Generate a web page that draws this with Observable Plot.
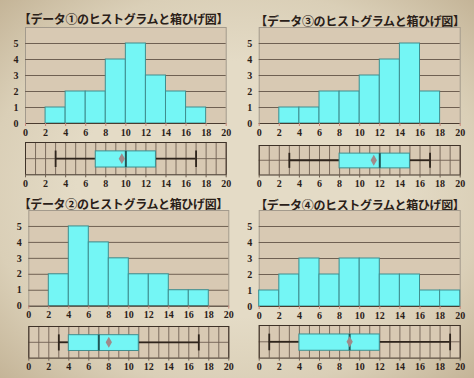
<!DOCTYPE html>
<html><head><meta charset="utf-8">
<script src="https://cdn.jsdelivr.net/npm/d3@7"></script>
<script src="https://cdn.jsdelivr.net/npm/@observablehq/plot@0.6"></script>
<style>
html,body{margin:0;padding:0;}
body{width:474px;height:378px;overflow:hidden;position:relative;
 background: radial-gradient(ellipse 75% 75% at 50% 50%, #e4dbc6 45%, #dacfb7 70%, #bfae90 100%);}
.title{position:absolute;font-family:"Noto Sans CJK JP",sans-serif;font-weight:700;font-size:12px;color:#2a2018;white-space:nowrap;transform:translate(-50%,-50%);letter-spacing:-0.35px;}
.chart{position:absolute;}
</style></head><body>
<script>
// Data
const binStarts = [0, 2, 4, 6, 8, 10, 12, 14, 16, 18];
const counts1 = [0, 1, 2, 2, 4, 5, 3, 2, 1, 0];
const counts2 = [0, 2, 5, 4, 3, 2, 2, 1, 1, 0];
const counts3 = [0, 1, 1, 2, 2, 3, 4, 5, 2, 0];
const counts4 = [1, 2, 3, 2, 3, 3, 2, 2, 1, 1];
// [min, Q1, median, Q3, max], mean
const box1 = [3, 7, 10, 13, 17]; const mean1 = 9.6;
const box2 = [3, 4, 7, 11, 17]; const mean2 = 8;
const box3 = [3, 8, 12, 15, 17]; const mean3 = 11.4;
const box4 = [1, 4, 9, 12, 19]; const mean4 = 9;
const titles = ["【データ①のヒストグラムと箱ひげ図】","【データ②のヒストグラムと箱ひげ図】","【データ③のヒストグラムと箱ひげ図】","【データ④のヒストグラムと箱ひげ図】"];
const xTicks = [0, 2, 4, 6, 8, 10, 12, 14, 16, 18, 20];
const yTicks = [0, 1, 2, 3, 4, 5];

const panels = [
  {counts: counts1, box: box1, mean: mean1, title: titles[0], ox: 0, oy: 0, xl: 25, xr: 225.7, hy0: 122.7, hy6: 26.7, bt: 141.7, bb: 174, ty: 18, tx: 123.5},
  {counts: counts3, box: box3, mean: mean3, title: titles[2], ox: 237, oy: 0, xl: 21.7, xr: 222.7, hy0: 122.7, hy6: 26.7, bt: 144.5, bb: 174, ty: 19.5, tx: 123},
  {counts: counts2, box: box2, mean: mean2, title: titles[1], ox: 0, oy: 189, xl: 28.3, xr: 228.3, hy0: 116.7, hy6: 21, bt: 136.7, bb: 168.3, ty: 14, tx: 123.3},
  {counts: counts4, box: box4, mean: mean4, title: titles[3], ox: 237, oy: 189, xl: 21.7, xr: 222.7, hy0: 117.3, hy6: 21.3, bt: 135.7, bb: 168.3, ty: 15, tx: 122.8}
];

const plotBg = "#d8c9b3";
const gridC = "#6f6052";
const frameC = "#a39a8c";
const barFill = "#74f6f5";
const barStroke = "#3f8e8f";
const labelFont = {fontFamily: "'Liberation Serif', serif", fontSize: "10px", fontWeight: "bold", color: "#2a2018"};

function place(el, left, top) {
  el.classList.add("chart");
  el.style.left = left + "px";
  el.style.top = top + "px";
  document.body.appendChild(el);
}

for (const p of panels) {
  const t = document.createElement("div");
  t.className = "title";
  t.textContent = p.title;
  t.style.left = (p.ox + p.tx) + "px";
  t.style.top = (p.oy + p.ty) + "px";
  document.body.appendChild(t);

  const bins = binStarts.map((b, i) => ({x1: b, x2: b + 2, y: p.counts[i]})).filter(d => d.y > 0);
  const mT = 8, mB = 20;
  const hH = (p.hy0 - p.hy6) + mT + mB;
  const hist = Plot.plot({
    width: 237, height: hH,
    marginLeft: p.xl, marginRight: 237 - p.xr, marginTop: mT, marginBottom: mB,
    style: {...labelFont, background: "transparent", overflow: "visible"},
    x: {domain: [0, 20], label: null},
    y: {domain: [0, 6], label: null},
    marks: [
      Plot.frame({fill: plotBg, stroke: frameC}),
      Plot.ruleY([1, 2, 3, 4, 5], {stroke: gridC, strokeWidth: 1}),
      Plot.rectY(bins, {x1: "x1", x2: "x2", y: "y", fill: barFill, stroke: barStroke, strokeWidth: 1, inset: 0}),
      Plot.ruleY([0], {stroke: "#4a3c30", strokeWidth: 1}),
      Plot.axisX({ticks: xTicks, tickFormat: "d", tickSize: 3, tickPadding: 2, stroke: "#c7877a", fill: "#2a2018"}),
      Plot.axisY({ticks: yTicks, tickFormat: "d", tickSize: 0, tickPadding: 7, fill: "#2a2018"})
    ]
  });
  place(hist, p.ox, p.oy + p.hy6 - mT);

  const bT = 5, bB = 17;
  const bH = (p.bb - p.bt) + bT + bB;
  const [mn, q1, md, q3, mx] = p.box;
  const box = Plot.plot({
    width: 237, height: bH,
    marginLeft: p.xl, marginRight: 237 - p.xr, marginTop: bT, marginBottom: bB,
    style: {...labelFont, background: "transparent", overflow: "visible"},
    x: {domain: [0, 20], label: null},
    y: {domain: [0, 2], axis: null},
    marks: [
      Plot.frame({fill: plotBg}),
      Plot.ruleX(d3.range(0, 21), {stroke: gridC, strokeWidth: 0.9}),
      Plot.ruleY([1], {stroke: gridC, strokeWidth: 0.9}),
      Plot.ruleY([{a: mn, b: q1}, {a: q3, b: mx}], {x1: "a", x2: "b", y: 1, stroke: "#2e241c", strokeWidth: 1.8}),
      Plot.ruleX([mn, mx], {y1: 0.45, y2: 1.47, stroke: "#2e241c", strokeWidth: 1.8}),
      Plot.rect([{a: q1, b: q3}], {x1: "a", x2: "b", y1: 0.45, y2: 1.45, fill: barFill, stroke: barStroke, strokeWidth: 1}),
      Plot.ruleX([md], {y1: 0.45, y2: 1.45, stroke: "#1f5656", strokeWidth: 2}),
      Plot.dot([p.mean], {x: d => d, y: 1, symbol: "diamond", r: 3.3, fill: "#a08a8a", stroke: "none"}),
      Plot.frame({stroke: "#3e3228", strokeWidth: 1}),
      Plot.axisX({ticks: xTicks, tickFormat: "d", tickSize: 3, tickPadding: 2, stroke: gridC, fill: "#2a2018"})
    ]
  });
  place(box, p.ox, p.oy + p.bt - bT);
}
</script>
</body></html>
